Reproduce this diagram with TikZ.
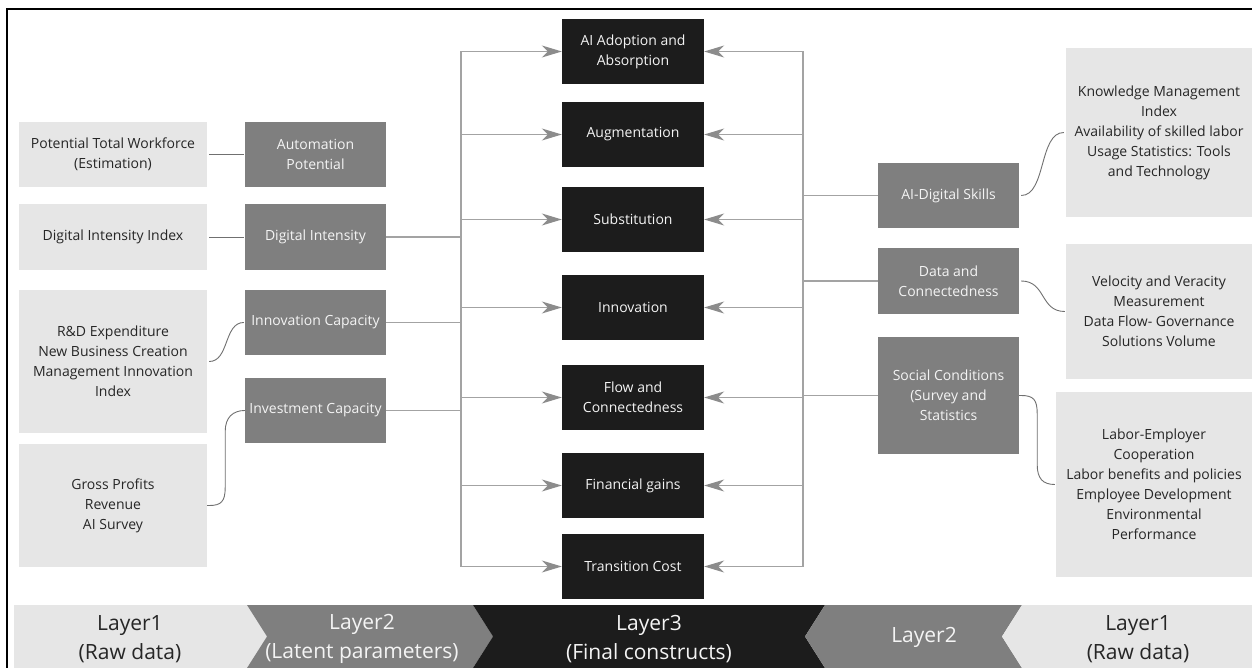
\documentclass[tikz,border=0pt]{standalone}
\usepackage{fontspec}
\setmainfont{Open Sans}
\usetikzlibrary{arrows.meta}
\definecolor{rawc}{HTML}{E6E6E6}
\definecolor{latc}{HTML}{7F7F7F}
\definecolor{finc}{HTML}{1C1C1C}
\definecolor{busc}{HTML}{A3A3A3}
\definecolor{arrc}{HTML}{8C8C8C}
\definecolor{linkc}{HTML}{707070}
\definecolor{txtc}{HTML}{262626}
\definecolor{wtxt}{HTML}{F4F4F4}
\begin{document}
\begin{tikzpicture}[x=1pt,y=-1pt,
 box/.style={inner sep=0pt, align=center, font=\fontsize{14}{20}\selectfont},
 raw/.style={box, fill=rawc, text=txtc},
 lat/.style={box, fill=latc, text=wtxt, minimum width=141pt, minimum height=65pt},
 fin/.style={box, fill=finc, text=wtxt, minimum width=142pt, minimum height=65pt},
 bus/.style={draw=busc, line width=1.2pt},
 arr/.style={draw=busc, line width=1.2pt, -{Stealth[length=20pt,width=12pt,inset=6pt,color=arrc]}},
 link/.style={draw=linkc, line width=0.9pt},
 bandtxt/.style={align=center, font=\fontsize{21}{29}\selectfont}
]
\useasboundingbox (0,0) rectangle (1252,668);
\clip (0,0) rectangle (1252,668);
\fill[white] (0,0) rectangle (1252,668);
\draw[black, line width=2pt] (1262,9) -- (7,9) -- (7,680);

% ---- Layer 1 (left)
\node[raw, minimum width=188pt, minimum height=65pt] (p1) at (113,154.5) {Potential Total Workforce\\(Estimation)};
\node[raw, minimum width=188pt, minimum height=66pt] (p2) at (113,237) {Digital Intensity Index};
\node[raw, minimum width=188pt, minimum height=143pt] (p3) at (113,361.5) {R\&D Expenditure\\New Business Creation\\Management Innovation\\Index};
\node[raw, minimum width=188pt, minimum height=123pt] (p4) at (113,505.5) {Gross Profits\\Revenue\\AI Survey};

% ---- Layer 2 (left)
\node[lat] (ap) at (315.5,154.5) {Automation\\Potential};
\node[lat, minimum height=66pt] (di) at (315.5,237) {Digital Intensity};
\node[lat] (ic) at (315.5,322.5) {Innovation Capacity};
\node[lat] (iv) at (315.5,410.5) {Investment Capacity};

% ---- Layer 3
\node[fin] (ai) at (633,51.5) {AI Adoption and\\Absorption};
\node[fin] (aug) at (633,134.5) {Augmentation};
\node[fin] (sub) at (633,219.5) {Substitution};
\node[fin] (inn) at (633,307.5) {Innovation};
\node[fin] (flow) at (633,397.5) {Flow and\\Connectedness};
\node[fin] (fg) at (633,485.5) {Financial gains};
\node[fin] (tc) at (633,566.5) {Transition Cost};

% ---- Layer 2 (right)
\node[lat] (ads) at (948.5,195.5) {AI-Digital Skills};
\node[lat, minimum height=66pt] (dc) at (948.5,281) {Data and\\Connectedness};
\node[lat, minimum height=117pt] (sc) at (948.5,395.5) {Social Conditions\\(Survey and\\Statistics};

% ---- Layer 1 (right)
\node[raw, minimum width=186pt, minimum height=169pt] (km) at (1159,132.5) {Knowledge Management\\Index\\Availability of skilled labor\\Usage Statistics: Tools\\and Technology};
\node[raw, minimum width=186pt, minimum height=135pt] (vv) at (1159,311.5) {Velocity and Veracity\\Measurement\\Data Flow- Governance\\Solutions Volume};
\node[raw, minimum width=196pt, minimum height=185pt] (lab) at (1154,484.5) {Labor-Employer\\Cooperation\\Labor benefits and policies\\Employee Development\\Environmental\\Performance};

% ---- links layer1 -> layer2 (left)
\draw[link, shorten <=2pt, shorten >=1pt] (p1.east) -- (ap.west);
\draw[link, shorten <=2pt, shorten >=1pt] (p2.east) -- (di.west);
\draw[link] ([xshift=2pt]p3.east) .. controls +(20,0) and +(-20,0) .. ([xshift=-1pt]ic.west);
\draw[link] (p4.east) -- ++(2,0) .. controls +(12,0) and +(0,14) .. ++(16,-18) -- ++(0,-56) .. controls +(0,-14) and +(-12,0) .. (iv.west);

% ---- buses
\coordinate (LBt) at (461,51.5);
\coordinate (LBb) at (461,566.5);
\coordinate (RBt) at (803,51.5);
\coordinate (RBb) at (803,566.5);
\draw[bus] (LBt) -- (LBb);
\draw[bus] (RBt) -- (RBb);

\draw[bus] (di.east) -- (LBt |- di.east);
\draw[bus] (ic.east) -- (LBt |- ic.east);
\draw[bus] (iv.east) -- (LBt |- iv.east);

\draw[bus] (ads.west) -- (RBt |- ads.west);
\draw[bus] (dc.west) -- (RBt |- dc.west);
\draw[bus] (sc.west) -- (RBt |- sc.west);

% ---- arrows into layer 3
\foreach \n in {ai,aug,sub,inn,flow,fg,tc}{
  \draw[arr] (LBt |- \n.west) -- (\n.west);
  \draw[arr] (RBt |- \n.east) -- (\n.east);
}

% ---- links layer2 -> layer1 (right)
\draw[link] ([xshift=2pt]ads.east) .. controls +(25,0) and +(-25,0) .. ([xshift=-2pt]km.west);
\draw[link] ([xshift=2pt]dc.east) .. controls +(25,0) and +(-25,0) .. ([xshift=-1pt]vv.west);
\draw[link] (sc.east) -- ++(2,0) .. controls +(12,0) and +(0,-14) .. ++(16,18) -- ++(0,51) .. controls +(0,14) and +(-12,0) .. ([xshift=-1pt]lab.west);

% ---- bottom band
\fill[rawc] (14,605) -- (247,605) -- (267,636.5) -- (247,668) -- (14,668) -- cycle;
\fill[latc] (247,605) -- (473,605) -- (493,636.5) -- (473,668) -- (247,668) -- (267,636.5) -- cycle;
\fill[finc] (473,605) -- (825,605) -- (805,636.5) -- (825,668) -- (473,668) -- (493,636.5) -- cycle;
\fill[latc] (825,605) -- (1022,605) -- (1002,636.5) -- (1022,668) -- (825,668) -- (805,636.5) -- cycle;
\fill[rawc] (1022,605) -- (1252,605) -- (1252,668) -- (1022,668) -- (1002,636.5) -- cycle;

\node[bandtxt, text=txtc] (b1) at (130,639) {Layer1\\(Raw data)};
\node[bandtxt, text=wtxt] (b2) at (362,639) {Layer2\\(Latent parameters)};
\node[bandtxt, text=wtxt] (b3) at (649,639) {Layer3\\(Final constructs)};
\node[bandtxt, text=wtxt] (b4) at (924,637) {Layer2};
\node[bandtxt, text=txtc] (b5) at (1138,639) {Layer1\\(Raw data)};
\end{tikzpicture}
\end{document}
